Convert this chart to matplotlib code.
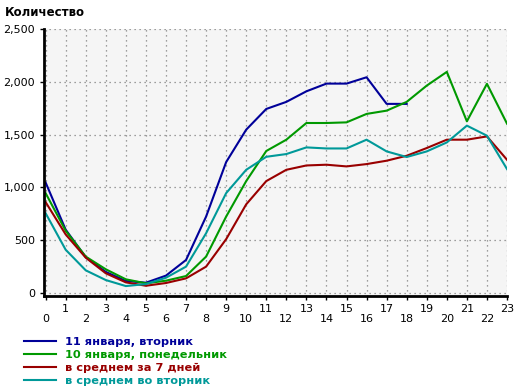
import matplotlib
matplotlib.use('Agg')
import matplotlib.pyplot as plt
from matplotlib.ticker import FuncFormatter

# часы и значения
hours = list(range(24))
tue_11 = [1047, 600, 340, 200, 114, 98, 165, 313, 724, 1240, 1547, 1743,
          1810, 1910, 1983, 1983, 2043, 1791, 1791]
mon_10 = [946, 590, 345, 225, 130, 92, 117, 161, 345, 724, 1060, 1345,
          1452, 1610, 1610, 1616, 1696, 1727, 1810, 1964, 2094, 1626, 1981, 1604]
avg_7d = [861, 555, 335, 187, 101, 69, 95, 139, 250, 510, 840, 1060,
          1167, 1208, 1215, 1199, 1221, 1253, 1300, 1373, 1452, 1452, 1483, 1262]
avg_tue = [756, 410, 215, 123, 66, 85, 145, 250, 566, 946, 1167, 1290,
           1316, 1379, 1369, 1369, 1452, 1341, 1288, 1341, 1426, 1585, 1490, 1174]

labels = ['11 января, вторник', '10 января, понедельник',
          'в среднем за 7 дней', 'в среднем во вторник']
colors = ['#000099', '#009900', '#990000', '#009999']

plt.rcParams['font.family'] = ['DejaVu Sans']

fig = plt.figure(figsize=(5.2, 3.92), dpi=100)
ax = fig.add_axes([44/520, 1-296/392, (507-44)/520, (296-29)/392])
ax.set_facecolor('#f5f5f5')

series = [tue_11, mon_10, avg_7d, avg_tue]
for vals, lab, col in zip(series, labels, colors):
    ax.plot(hours[:len(vals)], vals, color=col, lw=1.5, label=lab)

ax.set_xlim(-0.08, 23)
ax.set_ylim(-28, 2500)
ax.set_yticks(range(0, 2501, 500))
ax.yaxis.set_major_formatter(FuncFormatter(lambda v, p: '{:,}'.format(int(v))))
ax.set_xticks(hours)
ax.set_xticklabels([str(h) if h % 2 else '\n' + str(h) for h in hours],
                   linespacing=1.0)
ax.tick_params(labelsize=8, length=3, width=1, color='black')
ax.tick_params(axis='x', pad=3)

ax.grid(True, color='#808080', linestyle=(0, (1, 3)), linewidth=0.9)
for s in ['top', 'right']:
    ax.spines[s].set_visible(False)
for s in ['left', 'bottom']:
    ax.spines[s].set_linewidth(2)
    ax.spines[s].set_color('black')

fig.text(5/520, 1-12/392, 'Количество', fontsize=8.5, fontweight='bold',
         va='center', ha='left')

leg = fig.legend(loc='upper left', bbox_to_anchor=(18/520, 1-331/392),
                 frameon=False, labelcolor='linecolor', handlelength=2.8,
                 handletextpad=0.8, labelspacing=0.26, borderpad=0,
                 prop={'size': 8.2, 'weight': 'bold'})

fig.savefig('out.png', dpi=100)
